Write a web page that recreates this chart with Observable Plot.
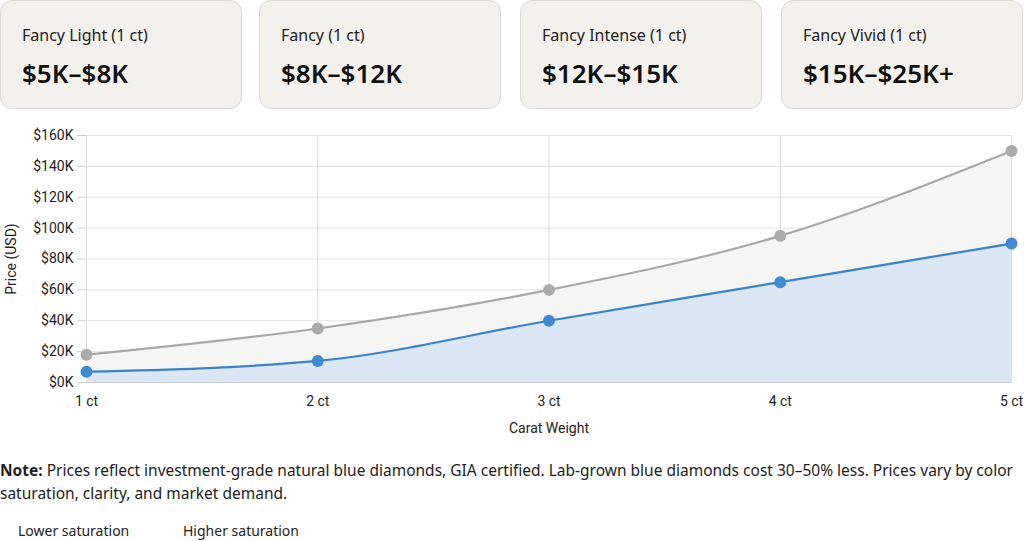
<!DOCTYPE html>
<html>
<head>
<meta charset="utf-8">
<script src="https://cdn.jsdelivr.net/npm/d3@7"></script>
<script src="https://cdn.jsdelivr.net/npm/@observablehq/plot@0.6"></script>
<style>
  html, body { margin: 0; padding: 0; background: #fff; width: 1024px; height: 541px; overflow: hidden; }
  body { font-family: "Noto Sans", "Open Sans", sans-serif; color: #1a1a1a; }
  .cards { position: absolute; left: 0; top: 0; width: 1024px; height: 110px; }
  .card { position: absolute; top: 0; width: 242px; height: 109px; background: #f3f1ec; border: 1px solid #dcdad5; border-radius: 12px; box-sizing: border-box; }
  .card .lbl { position: absolute; left: 21px; top: 23px; font-size: 16px; color: #222; }
  .card .val { position: absolute; left: 21px; top: 54px; font-size: 26px; font-weight: 600; color: #111; letter-spacing: 0px; }
  #chart { position: absolute; left: 0; top: 120px; }
  #chart svg, #chart svg text { font-family: Roboto, sans-serif !important; }
  .note { position: absolute; left: 0; top: 459px; width: 1024px; font-size: 15.5px; line-height: 23px; color: #222; }
  .legend { position: absolute; top: 521px; font-size: 14px; color: #222; }
</style>
</head>
<body>
<div class="cards" id="cards"></div>
<div id="chart"></div>
<div class="note"><b>Note:</b> Prices reflect investment-grade natural blue diamonds, GIA certified. Lab-grown blue diamonds cost 30–50% less. Prices vary by color<br>saturation, clarity, and market demand.</div>
<div class="legend" style="left:18px">Lower saturation</div>
<div class="legend" style="left:183px">Higher saturation</div>
<script>
const cardLabels = ["Fancy Light (1 ct)", "Fancy (1 ct)", "Fancy Intense (1 ct)", "Fancy Vivid (1 ct)"];
const cardValues = ["$5K–$8K", "$8K–$12K", "$12K–$15K", "$15K–$25K+"];

const carats = [1, 2, 3, 4, 5];
const lowerSaturation = [7000, 14000, 40000, 65000, 90000];
const higherSaturation = [18000, 35000, 60000, 95000, 150000];
const yTicks = [0, 20000, 40000, 60000, 80000, 100000, 120000, 140000, 160000];

const cardLefts = [0, 259, 520, 781];
const cardsEl = document.getElementById("cards");
cardLabels.forEach((l, i) => {
  const c = document.createElement("div");
  c.className = "card";
  c.style.left = cardLefts[i] + "px";
  c.innerHTML = `<div class="lbl">${l}</div><div class="val">${cardValues[i]}</div>`;
  cardsEl.appendChild(c);
});

const low = carats.map((c, i) => ({carat: c, price: lowerSaturation[i]}));
const high = carats.map((c, i) => ({carat: c, price: higherSaturation[i]}));

const plot = Plot.plot({
  width: 1024,
  height: 320,
  marginTop: 15,
  marginBottom: 58,
  marginLeft: 86,
  marginRight: 13,
  style: {fontFamily: "Roboto, sans-serif", fontSize: "14px", color: "#222", background: "transparent"},
  x: {domain: [1, 5], label: "Carat Weight"},
  y: {domain: [0, 160000], label: "Price (USD)"},
  marks: [
    Plot.gridX(carats, {stroke: "#dcdcdc", strokeOpacity: 1}),
    Plot.gridY(yTicks, {stroke: "#e3e3e3", strokeOpacity: 1}),
    Plot.axisX({ticks: carats, tickFormat: d => `${d} ct`, tickSize: 0, tickPadding: 14, fill: "#222", label: "Carat Weight", labelAnchor: "center", labelArrow: "none", labelOffset: 50}),
    Plot.axisY({ticks: yTicks, tickFormat: d => `$${d / 1000}K`, tickSize: 9, tickPadding: 4, stroke: "#cfcfcf", fill: "#222", label: "Price (USD)", labelAnchor: "center", labelArrow: "none", labelOffset: 80}),
    Plot.areaY(high, {x: "carat", y: "price", fill: "#f5f5f3", curve: "monotone-x"}),
    Plot.areaY(low, {x: "carat", y: "price", fill: "#dbe7f4", curve: "monotone-x"}),
    Plot.ruleY([0], {stroke: "#cfcfcf"}),
    Plot.lineY(high, {x: "carat", y: "price", stroke: "#a9a8a3", strokeWidth: 2.2, curve: "monotone-x"}),
    Plot.lineY(low, {x: "carat", y: "price", stroke: "#3a83c9", strokeWidth: 2.2, curve: "monotone-x"}),
    Plot.dot(high, {x: "carat", y: "price", r: 6, fill: "#acaba6"}),
    Plot.dot(low, {x: "carat", y: "price", r: 6, fill: "#3e8ad3"})
  ]
});
document.getElementById("chart").appendChild(plot);
</script>
</body>
</html>
